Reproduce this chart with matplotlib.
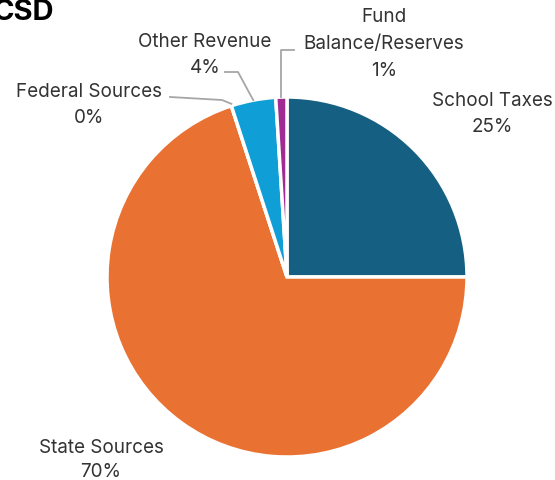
import matplotlib.pyplot as plt
import numpy as np

plt.rcParams['font.family'] = ['Inter', 'DejaVu Sans']

# Revenue sources
labels = ['School Taxes', 'State Sources', 'Federal Sources', 'Other Revenue', 'Fund\nBalance/Reserves']
values = [25, 70, 0, 4, 1]
colors = ['#156082', '#E97132', '#196B24', '#0F9ED5', '#A02B93']

W, H = 555, 480
TXT = '#333333'
LINE = '#A6A6A6'
FS = 13.6

fig = plt.figure(figsize=(W / 100, H / 100), dpi=100)
ax = fig.add_axes([0, 0, 1, 1])

cx, cy, r = 287, H - 277, 180
wedges, _ = ax.pie(values, center=(cx, cy), radius=r, startangle=90,
                   counterclock=False, colors=colors,
                   wedgeprops=dict(edgecolor='white', linewidth=2.5))
ax.set_xlim(0, W)
ax.set_ylim(0, H)
ax.set_aspect('equal')
ax.axis('off')


def py(y):
    # pixel row -> data y
    return H - y


def edge_point(w, frac=0.5):
    a = np.deg2rad(w.theta1 + (w.theta2 - w.theta1) * frac)
    return cx + r * np.cos(a), cy + r * np.sin(a)


def label(x, y, name, val, gap=26):
    lines = name.split('\n') + [f'{val:.0f}%']
    for i, s in enumerate(lines):
        ax.text(x, py(y + gap * i), s, ha='center', va='center', fontsize=FS, color=TXT)


label(492, 101, labels[0], values[0])
label(101, 448, labels[1], values[1], gap=24)
label(89, 92, labels[2], values[2])
label(205, 42, labels[3], values[3])
label(384, 17, labels[4], values[4], gap=27)

# leader lines
ex, ey = edge_point(wedges[3])
ax.plot([225, 238, ex], [py(72), py(72), ey], color=LINE, lw=1.3)
ex, ey = edge_point(wedges[2])
ax.plot([170, 222, ex], [py(97), py(100), ey + 2], color=LINE, lw=1.3)
ex, ey = edge_point(wedges[4])
ax.plot([ex, ex, 294], [ey, py(50), py(50)], color=LINE, lw=1.3)

ax.text(-7, py(13), 'CSD', ha='left', va='center', fontsize=21, fontweight='bold', color='black')

fig.savefig('out.png', dpi=100, facecolor='white')
